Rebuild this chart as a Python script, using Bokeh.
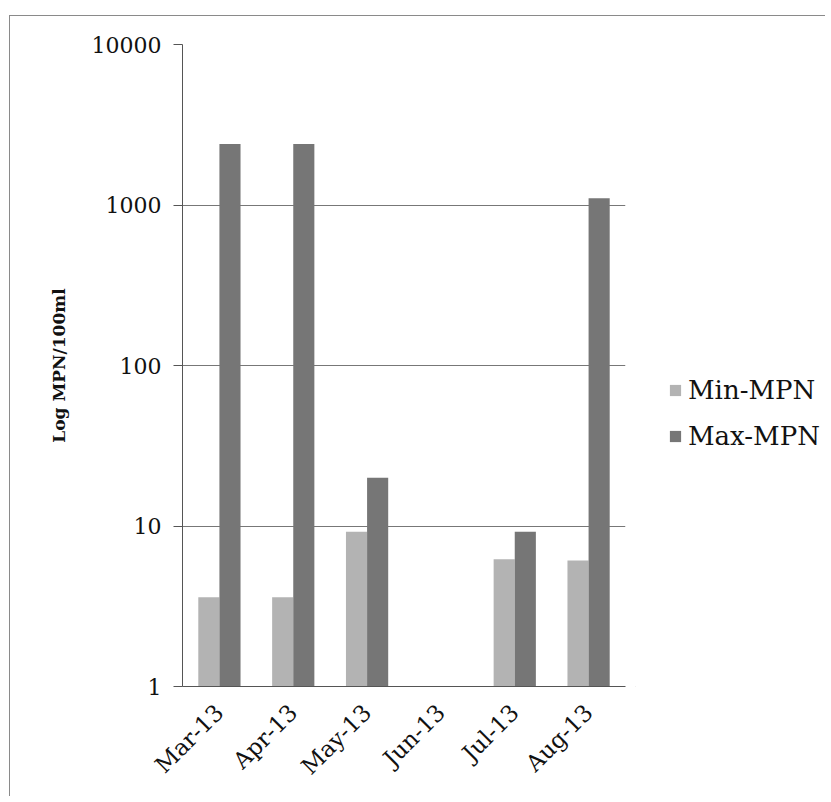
import math
from bokeh.plotting import figure
from bokeh.layouts import row
from bokeh.models import (ColumnDataSource, FactorRange, Range1d, FixedTicker,
                          NumeralTickFormatter, Legend, LegendItem)
from bokeh.transform import dodge
from bokeh.embed import file_html
from bokeh.resources import INLINE

months = ["Mar-13", "Apr-13", "May-13", "Jun-13", "Jul-13", "Aug-13"]
min_mpn = [3.6, 3.6, 9.2, float("nan"), 6.2, 6.1]
max_mpn = [2400, 2400, 20, float("nan"), 9.2, 1100]
y_ticks = [1, 10, 100, 1000, 10000]
series_names = ["Min-MPN", "Max-MPN"]
series_colors = ["#b3b3b3", "#767676"]

FONT = "DejaVu Serif"
H = 780

src = ColumnDataSource(dict(month=months, mn=min_mpn, mx=max_mpn, base=[1] * len(months)))

p = figure(x_range=FactorRange(*months, range_padding=0),
           y_range=Range1d(1, 10000), y_axis_type="log",
           width=625, height=H, output_backend="svg", toolbar_location=None,
           min_border_left=172, min_border_right=10, min_border_top=28,
           min_border_bottom=H - 28 - 642)
p.outline_line_color = None
p.background_fill_color = "white"
p.border_fill_color = "white"

p.vbar(x=dodge("month", -0.143, range=p.x_range), top="mn", bottom="base",
       width=0.286, source=src, fill_color=series_colors[0], line_color=None)
p.vbar(x=dodge("month", 0.143, range=p.x_range), top="mx", bottom="base",
       width=0.286, source=src, fill_color=series_colors[1], line_color=None)

# y axis
p.yaxis.ticker = FixedTicker(ticks=y_ticks)
p.yaxis.formatter = NumeralTickFormatter(format="0")
p.yaxis.minor_tick_line_color = None
p.yaxis.major_tick_in = 0
p.yaxis.major_tick_out = 9
p.yaxis.major_tick_line_color = "#555555"
p.yaxis.axis_line_color = "#555555"
p.yaxis.major_label_text_font = FONT
p.yaxis.major_label_text_font_size = "22px"
p.yaxis.major_label_text_color = "#111111"
p.yaxis.major_label_standoff = 12
p.yaxis.axis_label = "Log MPN/100ml"
p.yaxis.axis_label_text_font = FONT
p.yaxis.axis_label_text_font_style = "bold"
p.yaxis.axis_label_text_font_size = "17px"
p.yaxis.axis_label_text_color = "#111111"
p.yaxis.axis_label_standoff = 20

# x axis
p.xaxis.major_tick_line_color = None
p.xaxis.minor_tick_line_color = None
p.xaxis.axis_line_color = "#555555"
p.xaxis.major_label_orientation = math.pi / 4
p.xaxis.major_label_text_font = FONT
p.xaxis.major_label_text_font_size = "23px"
p.xaxis.major_label_text_color = "#111111"
p.xaxis.major_label_standoff = 16

p.xgrid.grid_line_color = None
p.ygrid.grid_line_color = "#777777"
p.ygrid.ticker = FixedTicker(ticks=y_ticks)

# legend panel (separate narrow figure to the right of the chart)
lg = figure(width=190, height=H, output_backend="svg", toolbar_location=None,
            x_range=Range1d(0, 1), y_range=Range1d(0, 1),
            min_border=0, outline_line_color=None)
lg.axis.visible = False
lg.grid.visible = False
items = []
for name, col in zip(series_names, series_colors):
    r = lg.vbar(x=[-5], top=[-5], bottom=[-6], width=0.1, fill_color=col, line_color=None)
    items.append(LegendItem(label=name, renderers=[r]))
legend = Legend(items=items, location=(33, 235), border_line_color=None,
                background_fill_alpha=0, padding=0, margin=0, spacing=16,
                glyph_width=14, glyph_height=14, label_standoff=6,
                label_text_font=FONT, label_text_font_size="26px",
                label_text_color="#111111")
lg.add_layout(legend)

layout = row(p, lg, spacing=0)
layout.margin = (15, 0, 0, 9)
layout.styles = {"border-left": "1px solid #8a8a8a", "border-top": "1px solid #8a8a8a"}

open("out.html", "w").write(file_html(layout, INLINE))
